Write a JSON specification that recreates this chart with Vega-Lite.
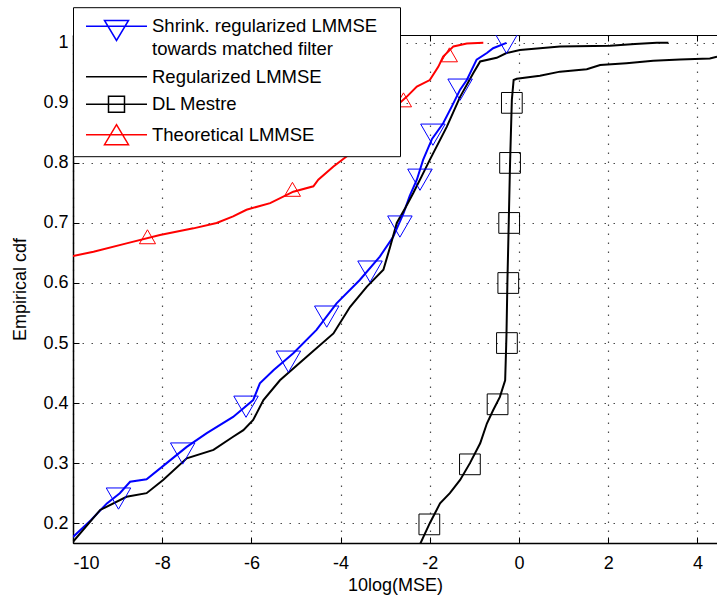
{
  "$schema": "https://vega.github.io/schema/vega-lite/v6.json",
  "autosize": "none",
  "width": 644,
  "height": 508,
  "padding": {"left": 73, "top": 35, "right": 0, "bottom": 53},
  "background": "white",
  "config": {
    "font": "Liberation Sans",
    "view": {"stroke": "black", "strokeWidth": 1},
    "style": {"guide-label": {"lineHeight": 23}},
    "axis": {
      "labelFont": "Liberation Sans",
      "labelFontSize": 18,
      "labelColor": "black",
      "titleFont": "Liberation Sans",
      "titleFontSize": 18,
      "titleFontWeight": "normal",
      "titleColor": "black",
      "domainColor": "black",
      "domainWidth": 1.5,
      "tickColor": "black",
      "tickSize": -6,
      "gridColor": "#000000",
      "gridOpacity": 0.7,
      "gridDash": [1.5, 7.5],
      "gridWidth": 1.2
    }
  },
  "datasets": {
    "lines": [
      {"s": "shrink", "x": -10, "y": 0.177}, {"s": "shrink", "x": -9.6, "y": 0.205}, {"s": "shrink", "x": -9.24, "y": 0.233},
      {"s": "shrink", "x": -8.95, "y": 0.25}, {"s": "shrink", "x": -8.72, "y": 0.269}, {"s": "shrink", "x": -8.35, "y": 0.273},
      {"s": "shrink", "x": -7.9, "y": 0.3}, {"s": "shrink", "x": -7.45, "y": 0.327}, {"s": "shrink", "x": -7.0, "y": 0.35},
      {"s": "shrink", "x": -6.41, "y": 0.377}, {"s": "shrink", "x": -5.96, "y": 0.405}, {"s": "shrink", "x": -5.81, "y": 0.433},
      {"s": "shrink", "x": -5.5, "y": 0.455}, {"s": "shrink", "x": -5.06, "y": 0.483}, {"s": "shrink", "x": -4.54, "y": 0.522},
      {"s": "shrink", "x": -4.09, "y": 0.566}, {"s": "shrink", "x": -3.57, "y": 0.605}, {"s": "shrink", "x": -3.12, "y": 0.644},
      {"s": "shrink", "x": -2.82, "y": 0.677}, {"s": "shrink", "x": -2.59, "y": 0.716}, {"s": "shrink", "x": -2.45, "y": 0.745},
      {"s": "shrink", "x": -2.29, "y": 0.772}, {"s": "shrink", "x": -2.15, "y": 0.805}, {"s": "shrink", "x": -1.95, "y": 0.84},
      {"s": "shrink", "x": -1.7, "y": 0.866}, {"s": "shrink", "x": -1.5, "y": 0.895}, {"s": "shrink", "x": -1.32, "y": 0.922},
      {"s": "shrink", "x": -1.17, "y": 0.938}, {"s": "shrink", "x": -0.95, "y": 0.972}, {"s": "shrink", "x": -0.72, "y": 0.983},
      {"s": "shrink", "x": -0.58, "y": 0.991}, {"s": "shrink", "x": -0.28, "y": 1.0},

      {"s": "reg", "x": -10, "y": 0.169}, {"s": "reg", "x": -9.7, "y": 0.195}, {"s": "reg", "x": -9.39, "y": 0.222},
      {"s": "reg", "x": -8.8, "y": 0.244}, {"s": "reg", "x": -8.35, "y": 0.25}, {"s": "reg", "x": -7.98, "y": 0.272},
      {"s": "reg", "x": -7.45, "y": 0.308}, {"s": "reg", "x": -6.85, "y": 0.322}, {"s": "reg", "x": -6.41, "y": 0.344},
      {"s": "reg", "x": -6.18, "y": 0.355}, {"s": "reg", "x": -5.96, "y": 0.372}, {"s": "reg", "x": -5.73, "y": 0.405},
      {"s": "reg", "x": -5.36, "y": 0.438}, {"s": "reg", "x": -4.76, "y": 0.477}, {"s": "reg", "x": -4.16, "y": 0.516},
      {"s": "reg", "x": -3.79, "y": 0.56}, {"s": "reg", "x": -3.41, "y": 0.594}, {"s": "reg", "x": -3.04, "y": 0.622},
      {"s": "reg", "x": -2.89, "y": 0.66}, {"s": "reg", "x": -2.74, "y": 0.7}, {"s": "reg", "x": -2.55, "y": 0.725},
      {"s": "reg", "x": -2.37, "y": 0.75}, {"s": "reg", "x": -2.2, "y": 0.775}, {"s": "reg", "x": -2.0, "y": 0.805},
      {"s": "reg", "x": -1.62, "y": 0.86}, {"s": "reg", "x": -1.32, "y": 0.91}, {"s": "reg", "x": -1.02, "y": 0.95},
      {"s": "reg", "x": -0.87, "y": 0.969}, {"s": "reg", "x": -0.5, "y": 0.975}, {"s": "reg", "x": -0.28, "y": 0.983},
      {"s": "reg", "x": 0.02, "y": 0.988}, {"s": "reg", "x": 0.92, "y": 0.994}, {"s": "reg", "x": 2.04, "y": 0.995},
      {"s": "reg", "x": 2.6, "y": 0.998}, {"s": "reg", "x": 3.09, "y": 1.0}, {"s": "reg", "x": 3.35, "y": 1.0},

      {"s": "dl", "x": -2.25, "y": 0.16}, {"s": "dl", "x": -2.0, "y": 0.2}, {"s": "dl", "x": -1.77, "y": 0.233},
      {"s": "dl", "x": -1.55, "y": 0.25}, {"s": "dl", "x": -1.32, "y": 0.272}, {"s": "dl", "x": -1.1, "y": 0.3},
      {"s": "dl", "x": -0.87, "y": 0.333}, {"s": "dl", "x": -0.72, "y": 0.366}, {"s": "dl", "x": -0.58, "y": 0.388},
      {"s": "dl", "x": -0.43, "y": 0.41}, {"s": "dl", "x": -0.31, "y": 0.438}, {"s": "dl", "x": -0.29, "y": 0.488},
      {"s": "dl", "x": -0.28, "y": 0.516}, {"s": "dl", "x": -0.26, "y": 0.6}, {"s": "dl", "x": -0.23, "y": 0.7},
      {"s": "dl", "x": -0.2, "y": 0.8}, {"s": "dl", "x": -0.16, "y": 0.905}, {"s": "dl", "x": -0.12, "y": 0.938},
      {"s": "dl", "x": -0.05, "y": 0.94}, {"s": "dl", "x": 0.47, "y": 0.945}, {"s": "dl", "x": 0.92, "y": 0.952},
      {"s": "dl", "x": 1.52, "y": 0.956}, {"s": "dl", "x": 1.82, "y": 0.963}, {"s": "dl", "x": 2.41, "y": 0.966},
      {"s": "dl", "x": 3.01, "y": 0.97}, {"s": "dl", "x": 3.61, "y": 0.972}, {"s": "dl", "x": 4.28, "y": 0.974},
      {"s": "dl", "x": 4.44, "y": 0.977},

      {"s": "theo", "x": -10, "y": 0.645}, {"s": "theo", "x": -9.54, "y": 0.652}, {"s": "theo", "x": -8.8, "y": 0.666},
      {"s": "theo", "x": -8.05, "y": 0.68}, {"s": "theo", "x": -7.3, "y": 0.691}, {"s": "theo", "x": -6.78, "y": 0.7},
      {"s": "theo", "x": -6.41, "y": 0.711}, {"s": "theo", "x": -6.11, "y": 0.722}, {"s": "theo", "x": -5.58, "y": 0.733},
      {"s": "theo", "x": -5.06, "y": 0.752}, {"s": "theo", "x": -4.61, "y": 0.761}, {"s": "theo", "x": -4.5, "y": 0.772},
      {"s": "theo", "x": -4.16, "y": 0.794}, {"s": "theo", "x": -3.72, "y": 0.819}, {"s": "theo", "x": -3.3, "y": 0.845},
      {"s": "theo", "x": -3.0, "y": 0.87}, {"s": "theo", "x": -2.67, "y": 0.9}, {"s": "theo", "x": -2.52, "y": 0.91},
      {"s": "theo", "x": -2.29, "y": 0.927}, {"s": "theo", "x": -2.0, "y": 0.938}, {"s": "theo", "x": -1.81, "y": 0.96},
      {"s": "theo", "x": -1.7, "y": 0.977}, {"s": "theo", "x": -1.47, "y": 0.994}, {"s": "theo", "x": -1.17, "y": 0.999},
      {"s": "theo", "x": -0.8, "y": 1.0}
    ],
    "markers": [
      {"s": "shrink", "x": -8.98, "y": 0.241}, {"s": "shrink", "x": -7.54, "y": 0.316}, {"s": "shrink", "x": -6.12, "y": 0.394},
      {"s": "shrink", "x": -5.17, "y": 0.469}, {"s": "shrink", "x": -4.31, "y": 0.544}, {"s": "shrink", "x": -3.34, "y": 0.619},
      {"s": "shrink", "x": -2.67, "y": 0.694}, {"s": "shrink", "x": -2.22, "y": 0.772}, {"s": "shrink", "x": -1.93, "y": 0.847},
      {"s": "shrink", "x": -1.32, "y": 0.922}, {"s": "shrink", "x": -0.28, "y": 1.0},
      {"s": "dl", "x": -2.01, "y": 0.198}, {"s": "dl", "x": -1.1, "y": 0.298}, {"s": "dl", "x": -0.48, "y": 0.398},
      {"s": "dl", "x": -0.27, "y": 0.5}, {"s": "dl", "x": -0.24, "y": 0.6}, {"s": "dl", "x": -0.22, "y": 0.7},
      {"s": "dl", "x": -0.2, "y": 0.8}, {"s": "dl", "x": -0.16, "y": 0.9},
      {"s": "theo", "x": -8.33, "y": 0.677}, {"s": "theo", "x": -5.08, "y": 0.756}, {"s": "theo", "x": -3.43, "y": 0.827},
      {"s": "theo", "x": -2.59, "y": 0.905}, {"s": "theo", "x": -1.56, "y": 0.98}
    ]
  },
  "resolve": {"scale": {"color": "independent", "shape": "independent", "size": "independent"}, "axis": {"x": "independent"}},
  "layer": [
    {
      "data": {"name": "lines"},
      "mark": {"type": "line", "strokeWidth": 2, "clip": true},
      "encoding": {
        "x": {"field": "x", "type": "quantitative",
          "scale": {"domain": [-10, 4.44], "nice": false, "zero": false},
          "axis": {"values": [-10, -8, -6, -4, -2, 0, 2, 4], "labelExpr": "datum.value + ''", "title": "10log(MSE)", "grid": true, "labelPadding": 17, "titlePadding": 4}},
        "y": {"field": "y", "type": "quantitative",
          "scale": {"domain": [0.167, 1.013], "nice": false, "zero": false},
          "axis": {"values": [0.2, 0.3, 0.4, 0.5, 0.6, 0.7, 0.8, 0.9, 1.0], "format": ".1~f", "title": "Empirical cdf", "grid": true, "labelPadding": 11, "titlePadding": 13}},
        "color": {"field": "s", "type": "nominal", "legend": null,
          "scale": {"domain": ["shrink", "reg", "dl", "theo"], "range": ["#0000ff", "#000000", "#000000", "#ff0000"]}},
        "detail": {"field": "s"}
      }
    },
    {
      "data": {"name": "markers"},
      "mark": {"type": "point", "filled": false, "strokeWidth": 1, "clip": true, "opacity": 1},
      "encoding": {
        "x": {"field": "x", "type": "quantitative", "axis": {"orient": "top", "values": [-10, -8, -6, -4, -2, 0, 2, 4], "labels": false, "title": null, "grid": false, "domain": false}},
        "y": {"field": "y", "type": "quantitative"},
        "color": {"field": "s", "type": "nominal", "legend": null,
          "scale": {"domain": ["shrink", "reg", "dl", "theo"], "range": ["#0000ff", "#000000", "#000000", "#ff0000"]}},
        "shape": {"field": "s", "type": "nominal", "legend": null,
          "scale": {"domain": ["shrink", "dl", "theo"], "range": ["triangle-down", "square", "triangle-up"]}},
        "size": {"field": "s", "type": "nominal", "legend": null,
          "scale": {"domain": ["shrink", "dl", "theo"], "range": [600, 260, 600]}}
      }
    },
    {
      "data": {"name": "markers"},
      "transform": [{"filter": "false"}],
      "mark": {"type": "point", "filled": false, "opacity": 1},
      "encoding": {
        "x": {"field": "x", "type": "quantitative", "axis": null},
        "y": {"field": "y", "type": "quantitative"},
        "color": {"field": "s", "type": "nominal",
          "scale": {"domain": ["shrink", "reg", "dl", "theo"], "range": ["#0000ff", "#000000", "#000000", "#ff0000"]},
          "legend": {
            "title": null, "orient": "none", "legendX": 0, "legendY": -27.8,
            "fillColor": "white", "strokeColor": "black", "padding": 8,
            "symbolSize": 400, "symbolStrokeWidth": 1.5, "symbolFillColor": "transparent",
            "symbolOffset": 24.5, "labelOffset": 24.5, "rowPadding": 6.5,
            "labelFont": "Liberation Sans", "labelFontSize": 18.5, "labelColor": "black", "labelLimit": 0,
            "labelExpr": "datum.value == 'shrink' ? ['Shrink. regularized LMMSE\u2800', 'towards matched filter'] : datum.value == 'reg' ? 'Regularized LMMSE' : datum.value == 'dl' ? 'DL Mestre' : 'Theoretical LMMSE'"
          }},
        "shape": {"field": "s", "type": "nominal",
          "scale": {"domain": ["shrink", "reg", "dl", "theo"], "range": [
            "M-3.05,0H3.05M-1.2,-0.57H1.2L0,1.43Z",
            "M-3.05,0H3.05",
            "M-3.05,0H3.05M-0.8,-0.8H0.8V0.8H-0.8Z",
            "M-3.05,0H3.05M0,-1.0L1.2,1.0H-1.2Z"
          ]},
          "legend": {
            "title": null, "orient": "none", "legendX": 0, "legendY": -27.8,
            "fillColor": "white", "strokeColor": "black", "padding": 8,
            "symbolSize": 400, "symbolStrokeWidth": 1.5, "symbolFillColor": "transparent",
            "symbolOffset": 24.5, "labelOffset": 24.5, "rowPadding": 6.5,
            "labelFont": "Liberation Sans", "labelFontSize": 18.5, "labelColor": "black", "labelLimit": 0,
            "labelExpr": "datum.value == 'shrink' ? ['Shrink. regularized LMMSE\u2800', 'towards matched filter'] : datum.value == 'reg' ? 'Regularized LMMSE' : datum.value == 'dl' ? 'DL Mestre' : 'Theoretical LMMSE'"
          }}
      }
    }
  ]
}
